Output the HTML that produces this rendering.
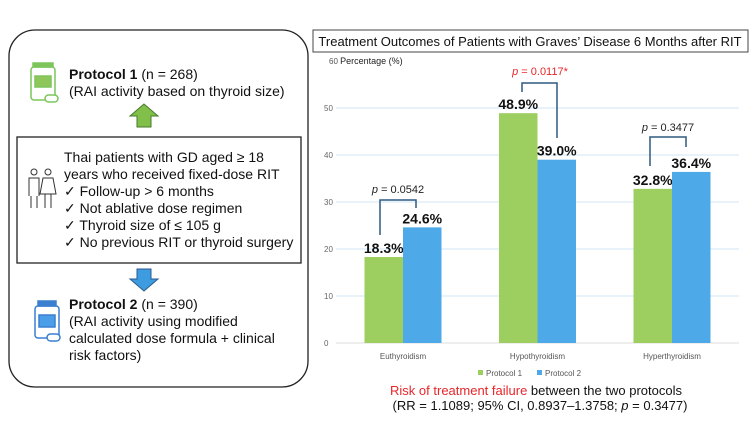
<!DOCTYPE html>
<html><head><meta charset="utf-8"><style>
body{margin:0;width:754px;height:425px;background:#fff;overflow:hidden;font-family:"Liberation Sans",sans-serif;}
</style></head><body>
<svg width="754" height="425" xmlns="http://www.w3.org/2000/svg" font-family="Liberation Sans, sans-serif">
<g>
<rect x="9" y="30" width="299" height="357" rx="26" fill="none" stroke="#222" stroke-width="1.3"/>
<g fill="none" stroke="#7dc55a" stroke-width="1.5">
<rect x="33" y="63" width="20" height="4" fill="#7dc55a"/><rect x="31" y="67" width="24" height="33" rx="3"/><rect x="35" y="76" width="16" height="11" fill="#8fc65a"/><rect x="45" y="95" width="13" height="7" rx="3.5" fill="#fff"/></g>
<text x="69" y="79" font-size="14" fill="#111"><tspan font-weight="bold">Protocol 1</tspan> (n = 268)</text>
<text x="69" y="96" font-size="14" fill="#111">(RAI activity based on thyroid size)</text>
<polygon points="144,104 130,116 137,116 137,127 151,127 151,116 158,116" fill="#7fbf4a" stroke="#4a7a2a"/>
<rect x="17" y="137" width="284" height="126" fill="#fff" stroke="#222" stroke-width="1.3"/>
<g fill="none" stroke="#333" stroke-width="1"><circle cx="34" cy="172" r="3"/><circle cx="48" cy="172" r="3"/><path d="M29,196 v-18 h10 v18 M31,196 v12 M37,196 v12 M43,178 h10 l3,16 h-16 z M45,194 v14 M51,194 v14"/></g>
<g font-size="14" fill="#111">
<text x="64" y="162">Thai patients with GD aged ≥ 18</text>
<text x="64" y="179">years who received fixed-dose RIT</text>
<text x="64" y="196">✓  Follow-up &gt; 6 months</text>
<text x="64" y="213">✓  Not ablative dose regimen</text>
<text x="64" y="230">✓  Thyroid size of ≤ 105 g</text>
<text x="64" y="247">✓  No previous RIT or thyroid surgery</text></g>
<polygon points="144,291 130,279 137,279 137,269 151,269 151,279 158,279" fill="#3d9be0" stroke="#2a5a90"/>
<g fill="none" stroke="#3a7fd0" stroke-width="1.5">
<rect x="38" y="301" width="18" height="5" fill="#3a7fd0"/><rect x="35" y="306" width="24" height="32" rx="3"/><rect x="39" y="315" width="16" height="12" fill="#4a9ee8"/><rect x="47" y="334" width="13" height="7" rx="3.5" fill="#fff"/></g>
<text x="69" y="309" font-size="14" fill="#111"><tspan font-weight="bold">Protocol 2</tspan> (n = 390)</text>
<text x="69" y="326" font-size="14" fill="#111">(RAI activity using modified</text>
<text x="69" y="343" font-size="14" fill="#111">calculated dose formula + clinical</text>
<text x="69" y="360" font-size="14" fill="#111">risk factors)</text>
</g>
<rect x="313" y="30" width="435" height="22" fill="#fff" stroke="#444"/>
<text x="530" y="46" font-size="13" text-anchor="middle" fill="#111">Treatment Outcomes of Patients with Graves’ Disease 6 Months after RIT</text>
<text x="329" y="64" font-size="8" fill="#555">60 <tspan fill="#222" font-size="9">Percentage (%)</tspan></text>
<g id="chart"></g>
<g fill="none" stroke="#2e5a80" stroke-width="1.5">
<path d="M380,235 V200 H416 V208"/><path d="M522,92 V83 H557 V138"/><path d="M650,166 V137 H686 V147"/></g>
<text x="398" y="193" font-size="11" text-anchor="middle" fill="#222"><tspan font-style="italic">p</tspan> = 0.0542</text>
<text x="540" y="75" font-size="11" text-anchor="middle" fill="#e8262a"><tspan font-style="italic">p</tspan> = 0.0117*</text>
<text x="668" y="131" font-size="11" text-anchor="middle" fill="#222"><tspan font-style="italic">p</tspan> = 0.3477</text>
<g font-size="8" fill="#555">
<rect x="478" y="370" width="5" height="5" fill="#9ccf5f"/><text x="486" y="376">Protocol 1</text>
<rect x="537" y="370" width="5" height="5" fill="#4ea9e8"/><text x="545" y="376">Protocol 2</text></g>
<text x="536" y="395" font-size="13" text-anchor="middle"><tspan fill="#e8262a">Risk of treatment failure</tspan><tspan fill="#111"> between the two protocols</tspan></text>
<text x="540" y="410" font-size="13" text-anchor="middle" fill="#111">(RR = 1.1089; 95% CI, 0.8937–1.3758; <tspan font-style="italic">p</tspan> = 0.3477)</text>
</svg>
<script>
const categories=["Euthyroidism","Hypothyroidism","Hyperthyroidism"];
const protocol1=[18.3,48.9,32.8];
const protocol2=[24.6,39.0,36.4];
const yTicks=[0,10,20,30,40,50];
const NS="http://www.w3.org/2000/svg";
const g=document.getElementById("chart");
const y0=343,pxPer=4.7;
function yS(v){return y0-v*pxPer;}
function xC(i){return 403+i*134.5;}
const bw=38.5;
function mk(t,a){const e=document.createElementNS(NS,t);for(const k in a)e.setAttribute(k,a[k]);g.appendChild(e);return e;}
yTicks.forEach(t=>{
 const l=mk("line",{x1:336,x2:739,y1:yS(t),y2:yS(t),stroke:t===0?"#ddd":"#cfe6f7","stroke-width":1});
 
 
 const tx=mk("text",{x:324,y:yS(t)+3,"font-size":8,fill:"#666"});tx.textContent=t;
 
 
});
categories.forEach((c,i)=>{
 [[protocol1[i],"#9ccf5f",-1],[protocol2[i],"#4ea9e8",0]].forEach(([v,col,o])=>{
  const r=mk("rect",{x:xC(i)+o*bw,y:yS(v),width:bw,height:v*pxPer,fill:col});
  
  
  const t=mk("text",{x:xC(i)+o*bw+bw/2,y:yS(v)-4,"font-size":14,"font-weight":"bold","text-anchor":"middle",fill:"#111"});
  t.textContent=v.toFixed(1)+"%";
  
  
 });
 const ct=mk("text",{x:xC(i),y:359,"font-size":8,"text-anchor":"middle",fill:"#555"});ct.textContent=c;
 
 
});
</script>
</body></html>
